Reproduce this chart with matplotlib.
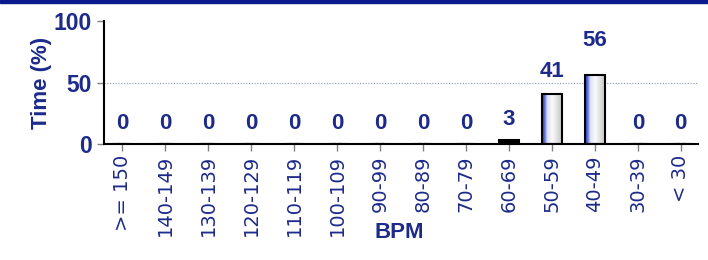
import matplotlib.pyplot as plt
import numpy as np
from matplotlib.colors import LinearSegmentedColormap
from matplotlib.patches import Rectangle

# ── Data ──
categories = [">= 150", "140-149", "130-139", "120-129", "110-119", "100-109",
              "90-99", "80-89", "70-79", "60-69", "50-59", "40-49", "30-39", "< 30"]
values = [0, 0, 0, 0, 0, 0, 0, 0, 0, 3, 41, 56, 0, 0]
label_offsets = [15, 15, 15, 15, 15, 15, 15, 15, 15, 15, 16, 25, 15, 15]

navy = "#1c2a8a"
plt.rcParams['font.family'] = ['Liberation Sans', 'DejaVu Sans']

fig = plt.figure(figsize=(7.08, 2.6), dpi=100)
ax = fig.add_axes([104 / 708, 116 / 260, 594 / 708, 123 / 260])

# top banner line
fig.patches.append(Rectangle((0, 1 - 2.5 / 260), 1, 2.5 / 260, transform=fig.transFigure,
                             color="#0a1a8c", zorder=10))

x = np.arange(len(categories))
bars = ax.bar(x, values, width=0.48, facecolor="none", edgecolor="black", linewidth=1.5, zorder=3)

# gradient fill for bars
cmap = LinearSegmentedColormap.from_list(
    "bar", [(0, "#1a30d0"), (0.12, "#6070d8"), (0.25, "#dde2f2"), (0.5, "#fafafa"),
            (0.8, "#d8d8d8"), (1, "#c4c4c4")])
grad = np.linspace(0, 1, 64).reshape(1, -1)
for b, v in zip(bars, values):
    if v <= 0:
        continue
    x0, w = b.get_x(), b.get_width()
    im = ax.imshow(grad, cmap=cmap, aspect="auto", extent=[x0, x0 + w, 0, v], zorder=2)
    im.set_clip_path(b)
    if v < 5:
        b.set_facecolor("black")

# zero markers
for xi, v in zip(x, values):
    if v == 0:
        ax.plot([xi - 0.12, xi + 0.12], [0.8, 0.8], color="#8090c8", lw=1, ls=(0, (2, 2)), zorder=2)

# value labels
for xi, v, off in zip(x, values, label_offsets):
    ax.annotate(str(v), (xi, v), xytext=(0, off), textcoords="offset points",
                ha="center", va="center", fontsize=16, fontweight="bold", color=navy)

ax.axhline(50, color="#8a92c0", lw=0.8, ls=(0, (1, 1.5)), zorder=1)

ax.set_xlim(-0.42, 13.4)
ax.set_ylim(0, 100)
ax.set_yticks([0, 50, 100])
ax.set_yticklabels(["0", "50", "100"], fontsize=16.5, fontweight="bold", color=navy)
ax.set_xticks(x)
ax.set_xticklabels(categories, rotation=90, fontsize=14, color=navy, family="DejaVu Sans")
ax.tick_params(axis="both", colors="#808080", length=5, width=1)
for lbl in ax.get_xticklabels() + ax.get_yticklabels():
    lbl.set_color(navy)
ax.tick_params(axis="y", pad=4)
ax.tick_params(axis="x", pad=3)

ax.set_ylabel("Time (%)", fontsize=16, fontweight="bold", color=navy)
ax.yaxis.set_label_coords(-0.087, 0.5)
ax.set_xlabel("BPM", fontsize=16, fontweight="bold", color=navy)
ax.xaxis.set_label_coords(295 / 594, -0.635)

for s in ["top", "right"]:
    ax.spines[s].set_visible(False)
ax.spines["left"].set_linewidth(1.5)
ax.spines["bottom"].set_linewidth(1.5)

fig.savefig("out.png", dpi=100)
